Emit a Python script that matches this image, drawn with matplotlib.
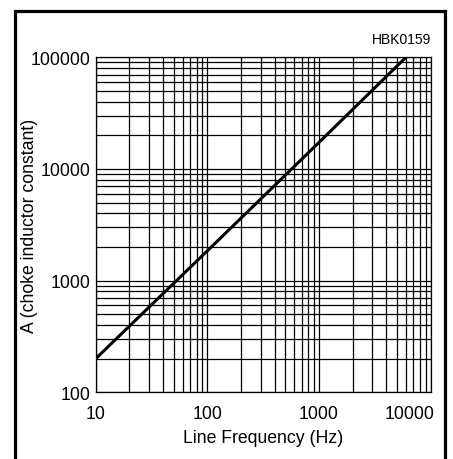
import matplotlib
matplotlib.use("Agg")
import matplotlib.pyplot as plt
import matplotlib.transforms as mtransforms
from matplotlib.patches import Rectangle

plt.rcParams['font.family'] = ['Liberation Sans', 'DejaVu Sans']

# line frequency (Hz) vs choke inductor constant A
freq = [10, 100, 1000, 6000]
a_const = [200, 1850, 17300, 100000]

x_ticks = [10, 100, 1000, 10000]
x_labels = ['10', '100', '1000', '10000']
y_ticks = [100, 1000, 10000, 100000]
y_labels = ['100', '1000', '10000', '100000']

W, H = 453, 460
fig = plt.figure(figsize=(W / 100, H / 100), dpi=100)

# axes box in pixels: left 95.7, right 430.7, top 58.3, bottom 393.3
ax = fig.add_axes([95.7 / W, (H - 393.3) / H, 335 / W, 335 / H])
ax.set_xscale('log')
ax.set_yscale('log')
ax.set_xlim(10, 10000)
ax.set_ylim(100, 100000)

ax.grid(True, which='both', color='black', linewidth=0.9)
ax.set_axisbelow(True)
ax.plot(freq, a_const, color='black', linewidth=2.2, solid_capstyle='butt')

ax.set_xticks(x_ticks)
ax.set_xticklabels(x_labels)
ax.set_yticks(y_ticks)
ax.set_yticklabels(y_labels)
ax.tick_params(which='both', length=0, labelsize=12.7)
ax.tick_params(axis='x', pad=9)
ax.tick_params(axis='y', pad=4)

# keep the last x label inside the frame
last = ax.get_xticklabels()[-1]
last.set_ha('right')
last.set_transform(last.get_transform() + mtransforms.ScaledTranslation(4 / 100, 0, fig.dpi_scale_trans))

for s in ax.spines.values():
    s.set_linewidth(0.9)
    s.set_color('black')

ax.set_xlabel('Line Frequency (Hz)', fontsize=12.7, labelpad=5)
ax.set_ylabel('A (choke inductor constant)', fontsize=12.7)
ax.yaxis.set_label_coords(-0.172, 0.5)

fig.text(430.7 / W, 1 - 40 / H, 'HBK0159', ha='right', va='center', fontsize=10)

# outer frame, bottom edge runs off the image
fig.patches.append(Rectangle((14.7 / W, -0.05), (445 - 14.7) / W, 1.05 - 11.5 / H,
                             transform=fig.transFigure, fill=False,
                             edgecolor='black', linewidth=2.3))

fig.savefig('out.png', dpi=100)
